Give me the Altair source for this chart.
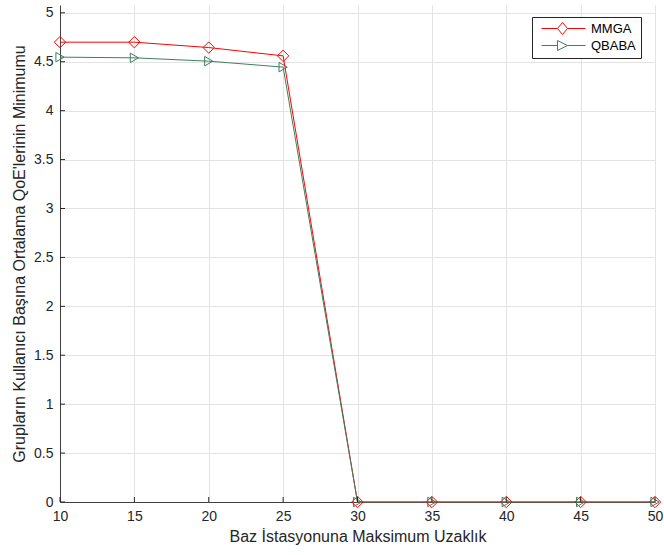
import altair as alt
import pandas as pd

x_vals = [10, 15, 20, 25, 30, 35, 40, 45, 50]
mmga = [4.70, 4.70, 4.645, 4.56, 0, 0, 0, 0, 0]
qbaba = [4.547, 4.54, 4.506, 4.445, 0, 0, 0, 0, 0]
series_names = ["MMGA", "QBABA"]
series_colors = ["#ff0000", "#3f7f5f"]
x_ticks = [10, 15, 20, 25, 30, 35, 40, 45, 50]
y_ticks = [0, 0.5, 1, 1.5, 2, 2.5, 3, 3.5, 4, 4.5, 5]

rows = []
for xv, a, b in zip(x_vals, mmga, qbaba):
    rows.append({"x": xv, "y": a, "series": "MMGA"})
    rows.append({"x": xv, "y": b, "series": "QBABA"})
df = pd.DataFrame(rows)

FONT = "Liberation Sans"
AX = "#262626"

xscale = alt.Scale(domain=[10, 50], nice=False)
yscale = alt.Scale(domain=[0, 5.08], nice=False)

xenc = alt.X("x:Q", scale=xscale,
             axis=alt.Axis(values=x_ticks, title="Baz İstasyonuna Maksimum Uzaklık",
                           labelPadding=7, titlePadding=5, grid=True, tickSize=0,
                           labelFlush=False))
yenc = alt.Y("y:Q", scale=yscale,
             axis=alt.Axis(values=y_ticks, format=".1~f",
                           title="Grupların Kullanıcı Başına Ortalama QoE'lerinin Minimumu",
                           labelPadding=7, titlePadding=6, grid=True, tickSize=0))

base = alt.Chart(df)

layers = []
specs = [("MMGA", series_colors[0], "diamond", 130),
         ("QBABA", series_colors[1], "triangle-right", 90)]
for name, col, shp, sz in specs:
    sub = base.transform_filter(alt.datum.series == name)
    layers.append(sub.mark_line(strokeWidth=1, color=col).encode(
        x=xenc, y=yenc, order=alt.Order("x:Q")))
for name, col, shp, sz in specs:
    sub = base.transform_filter(alt.datum.series == name)
    layers.append(sub.mark_point(shape=shp, filled=False, size=sz, strokeWidth=1,
                                 opacity=1, color=col).encode(x=xenc, y=yenc))

# inward axis ticks
xt = alt.Chart(pd.DataFrame({"t": x_ticks})).mark_rule(color=AX, strokeWidth=1, y2Offset=-5).encode(
    x=alt.X("t:Q", scale=xscale), y=alt.datum(0), y2=alt.datum(0))
yt = alt.Chart(pd.DataFrame({"t": y_ticks})).mark_rule(color=AX, strokeWidth=1, x2Offset=5).encode(
    y=alt.Y("t:Q", scale=yscale), x=alt.datum(10), x2=alt.datum(10))
layers += [xt, yt]

# legend symbols: line segment with a hollow marker (unit = 6px)
diamond_path = "M-0.33,0L2.33,0M4,0L7,0M3.17,-1L4,0L3.17,1L2.33,0Z"
tri_path = "M-0.33,0L2.33,0M4,0L7,0M2.33,-0.83L4,0L2.33,0.83Z"

leg = dict(title=None, orient="none", legendX=472, legendY=12,
           fillColor="white", strokeColor=AX, padding=5,
           labelFont=FONT, labelFontSize=13, labelColor="#000000",
           symbolSize=144, symbolStrokeWidth=1, labelOffset=41, rowPadding=1,
           labelExpr="datum.label + '   '")

legend_layer = base.mark_point(filled=False, strokeWidth=1, opacity=0).encode(
    x=xenc, y=yenc,
    color=alt.Color("series:N", scale=alt.Scale(domain=series_names, range=series_colors),
                    legend=alt.Legend(**leg)),
    shape=alt.Shape("series:N", scale=alt.Scale(domain=series_names, range=[diamond_path, tri_path]),
                    legend=alt.Legend(**leg)),
)
layers.append(legend_layer)

chart = alt.layer(*layers).properties(
    width=595, height=497,
    autosize=alt.AutoSizeParams(type="none"),
    padding={"left": 60, "top": 5, "right": 9, "bottom": 53},
).configure_view(stroke="transparent").configure_axis(
    labelFont=FONT, titleFont=FONT, labelFontSize=14, titleFontSize=16,
    labelColor=AX, titleColor=AX, titleFontWeight="normal",
    domainColor="#404040", domainWidth=1, gridColor="#e3e3e3", gridWidth=1,
).configure_legend(symbolOpacity=1)

chart.save("out.html", embed_options={"renderer": "svg", "actions": False})
